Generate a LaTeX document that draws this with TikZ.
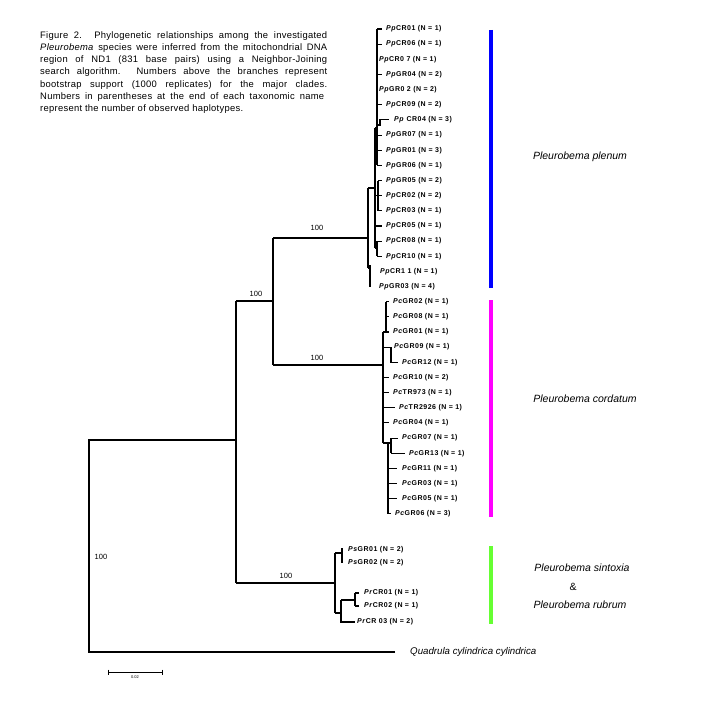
\documentclass[tikz,border=0pt]{standalone}
\usepackage{fontspec}
\setmainfont{Liberation Sans}
\definecolor{barblue}{RGB}{0,0,255}
\definecolor{barmag}{RGB}{255,0,255}
\definecolor{bargreen}{RGB}{102,255,51}
\begin{document}
\begin{tikzpicture}[x=1pt,y=-1pt,
  br/.style={line width=1.1pt},
  leaf/.style={anchor=west, inner sep=0pt, font=\fontsize{7}{8}\selectfont\bfseries\addfontfeature{LetterSpace=7}},
  boot/.style={inner sep=0pt, font=\fontsize{7.5}{9}\selectfont},
  clade/.style={inner sep=0pt, font=\fontsize{10.5}{12}\selectfont\itshape},
  bar/.style={line width=3.5pt}]
\useasboundingbox (0,0) rectangle (727,709);
\def\Y#1{{29+15.15*#1}}
% caption
\node[anchor=north west, inner sep=0pt] (cap) at (40,31) {\parbox{287pt}{\fontsize{9.4}{12.3}\selectfont\addfontfeature{LetterSpace=3}
\makebox[287pt][s]{Figure 2. Phylogenetic relationships among the investigated}\\
\makebox[287pt][s]{\textit{Pleurobema} species were inferred from the mitochondrial DNA}\\
\makebox[287pt][s]{region of ND1 (831 base pairs) using a Neighbor-Joining}\\
\makebox[287pt][s]{search algorithm. Numbers above the branches represent}\\
\makebox[287pt][s]{bootstrap support (1000 replicates) for the major clades.}\\
\makebox[284pt][s]{Numbers in parentheses at the end of each taxonomic name}\\
represent the number of observed haplotypes.}};
% internal nodes
\coordinate (root) at (89,440);
\coordinate (nA) at (236,440);
\coordinate (nB) at (273,301);
\coordinate (nPp) at (368,238);
\coordinate (nPc) at (383,365);
\coordinate (nPs) at (335,583);
\coordinate (qend) at (395,652);
% backbone
\draw[br] (qend) -| (root) -- (nA);
\draw[br] (236,301) -- (236,583);
\draw[br] (236,301) -- (nB);
\draw[br] (273,238) -- (273,365);
\draw[br] (273,238) -- (nPp);
\draw[br] (273,365) -- (nPc);
\draw[br] (236,583) -- (nPs);
\node[boot] (b1) at (317,228) {100};
\node[boot] (b2) at (256,294) {100};
\node[boot] (b3) at (317,358) {100};
\node[boot] (b4) at (286,576) {100};
\node[boot] (b5) at (101,557) {100};
\node[anchor=west, inner sep=0pt, font=\fontsize{9.7}{11}\selectfont\itshape] (quad) at (410,652) {Quadrula cylindrica cylindrica};
% Pp clade
\draw[br] (368,188) -- (368,268);
\draw[br] (368,188) -- (375,188);
\draw[br] (368,268) -- (370,268);
\draw[br] (370,265) -- (370,\Y{17});
\draw[br] (375,128) -- (375,248);
\draw[br] (375,128) -- (377,128);
\draw[br] (377,\Y{0}) -- (377,\Y{9});
\foreach \i in {0,1,3,5,7,8,9} {\draw[br] (377,\Y{\i}) -- (382,\Y{\i});}
\draw[br] (377,125) -- (380,125) -- (380,\Y{6}) -- (389,\Y{6});
\draw[br] (375,\Y{11}) -- (378,\Y{11});
\draw[br] (378,\Y{10}) -- (378,\Y{12});
\foreach \i in {10,11,12,13} {\draw[br] (378,\Y{\i}) -- (382,\Y{\i});}
\draw[br] (375,\Y{13}) -- (378,\Y{13});
\draw[br] (375,248) -- (377,248);
\draw[br] (377,\Y{14}) -- (377,\Y{15});
\foreach \i in {14,15} {\draw[br] (377,\Y{\i}) -- (382,\Y{\i});}
\node[leaf] (PpCR01) at (386,\Y{0}) {\textit{Pp}CR01 (N = 1)};
\node[leaf] (PpCR06) at (386,\Y{1}) {\textit{Pp}CR06 (N = 1)};
\node[leaf] (PpCR07) at (379,\Y{2}) {\textit{Pp}CR0 7 (N = 1)};
\node[leaf] (PpGR04) at (386,\Y{3}) {\textit{Pp}GR04 (N = 2)};
\node[leaf] (PpGR02) at (379,\Y{4}) {\textit{Pp}GR0 2 (N = 2)};
\node[leaf] (PpCR09) at (386,\Y{5}) {\textit{Pp}CR09 (N = 2)};
\node[leaf] (PpCR04) at (394,\Y{6}) {\textit{Pp} CR04 (N = 3)};
\node[leaf] (PpGR07) at (386,\Y{7}) {\textit{Pp}GR07 (N = 1)};
\node[leaf] (PpGR01) at (386,\Y{8}) {\textit{Pp}GR01 (N = 3)};
\node[leaf] (PpGR06) at (386,\Y{9}) {\textit{Pp}GR06 (N = 1)};
\node[leaf] (PpGR05) at (386,\Y{10}) {\textit{Pp}GR05 (N = 2)};
\node[leaf] (PpCR02) at (386,\Y{11}) {\textit{Pp}CR02 (N = 2)};
\node[leaf] (PpCR03) at (386,\Y{12}) {\textit{Pp}CR03 (N = 1)};
\node[leaf] (PpCR05) at (386,\Y{13}) {\textit{Pp}CR05 (N = 1)};
\node[leaf] (PpCR08) at (386,\Y{14}) {\textit{Pp}CR08 (N = 1)};
\node[leaf] (PpCR10) at (386,\Y{15}) {\textit{Pp}CR10 (N = 1)};
\node[leaf] (PpCR11) at (380,\Y{16}) {\textit{Pp}CR1 1 (N = 1)};
\node[leaf] (PpGR03) at (379,\Y{17}) {\textit{Pp}GR03 (N = 4)};
% Pc clade
\draw[br] (383,\Y{20}) -- (383,443);
\draw[br] (383,\Y{20}) -- (386,\Y{20});
\draw[br] (386,\Y{18}) -- (386,\Y{20});
\foreach \i in {18,19,20} {\draw[br] (386,\Y{\i}) -- (389,\Y{\i});}
\draw[br] (383,\Y{21}) -- (391,\Y{21}) -- (391,\Y{22}) -- (398,\Y{22});
\foreach \i in {23,24,26} {\draw[br] (383,\Y{\i}) -- (389,\Y{\i});}
\draw[br] (383,\Y{25}) -- (395,\Y{25});
\draw[br] (383,443) -- (391,443);
\draw[br] (391,\Y{27}) -- (391,\Y{28});
\draw[br] (391,\Y{27}) -- (398,\Y{27});
\draw[br] (391,\Y{28}) -- (405,\Y{28});
\draw[br] (388,443) -- (388,\Y{32}) -- (391,\Y{32});
\foreach \i in {29,30,31} {\draw[br] (388,\Y{\i}) -- (397,\Y{\i});}
\node[leaf] (PcGR02) at (393,\Y{18}) {\textit{Pc}GR02 (N = 1)};
\node[leaf] (PcGR08) at (393,\Y{19}) {\textit{Pc}GR08 (N = 1)};
\node[leaf] (PcGR01) at (393,\Y{20}) {\textit{Pc}GR01 (N = 1)};
\node[leaf] (PcGR09) at (394,\Y{21}) {\textit{Pc}GR09 (N = 1)};
\node[leaf] (PcGR12) at (402,\Y{22}) {\textit{Pc}GR12 (N = 1)};
\node[leaf] (PcGR10) at (393,\Y{23}) {\textit{Pc}GR10 (N = 2)};
\node[leaf] (PcTR973) at (393,\Y{24}) {\textit{Pc}TR973 (N = 1)};
\node[leaf] (PcTR2926) at (399,\Y{25}) {\textit{Pc}TR2926 (N = 1)};
\node[leaf] (PcGR04) at (393,\Y{26}) {\textit{Pc}GR04 (N = 1)};
\node[leaf] (PcGR07) at (402,\Y{27}) {\textit{Pc}GR07 (N = 1)};
\node[leaf] (PcGR13) at (409,\Y{28}) {\textit{Pc}GR13 (N = 1)};
\node[leaf] (PcGR11) at (402,\Y{29}) {\textit{Pc}GR11 (N = 1)};
\node[leaf] (PcGR03) at (402,\Y{30}) {\textit{Pc}GR03 (N = 1)};
\node[leaf] (PcGR05) at (402,\Y{31}) {\textit{Pc}GR05 (N = 1)};
\node[leaf] (PcGR06) at (395,\Y{32}) {\textit{Pc}GR06 (N = 3)};
% Ps / Pr clade
\draw[br] (335,553) -- (335,613);
\draw[br] (335,553) -- (342,553);
\draw[br] (342,548) -- (342,563);
\draw[br] (335,613) -- (341,613);
\draw[br] (341,600) -- (341,622) -- (355,622);
\draw[br] (341,600) -- (355,600);
\draw[br] (355,593) -- (355,606);
\draw[br] (355,593) -- (359,593);
\draw[br] (355,606) -- (359,606);
\node[leaf] (PsGR01) at (348,550) {\textit{Ps}GR01 (N = 2)};
\node[leaf] (PsGR02) at (348,563) {\textit{Ps}GR02 (N = 2)};
\node[leaf] (PrCR01) at (364,593) {\textit{Pr}CR01 (N = 1)};
\node[leaf] (PrCR02) at (364,606) {\textit{Pr}CR02 (N = 1)};
\node[leaf] (PrCR03) at (357,622) {\textit{Pr}CR 03 (N = 2)};
% clade bars and names
\draw[bar, barblue] (491,30) -- (491,288);
\draw[bar, barmag] (491,300) -- (491,517);
\draw[bar, bargreen] (491,546) -- (491,624);
\node[clade] (cPp) at (580,157) {Pleurobema plenum};
\node[clade] (cPc) at (585,399) {Pleurobema cordatum};
\node[clade] (cPs) at (582,568) {Pleurobema sintoxia};
\node[inner sep=0pt, font=\fontsize{10.5}{12}\selectfont] (amp) at (573,587) {\&};
\node[clade] (cPr) at (580,605) {Pleurobema rubrum};
% scale bar
\coordinate (s1) at (108,672);
\coordinate (s2) at (162,672);
\draw[line width=0.9pt] (s1) -- (s2);
\draw[line width=0.9pt] (108,669.5) -- (108,674.5);
\draw[line width=0.9pt] (162,669.5) -- (162,674.5);
\node[inner sep=0pt, font=\fontsize{4}{5}\selectfont] (slab) at (135,677) {0.02};
\end{tikzpicture}
\end{document}
